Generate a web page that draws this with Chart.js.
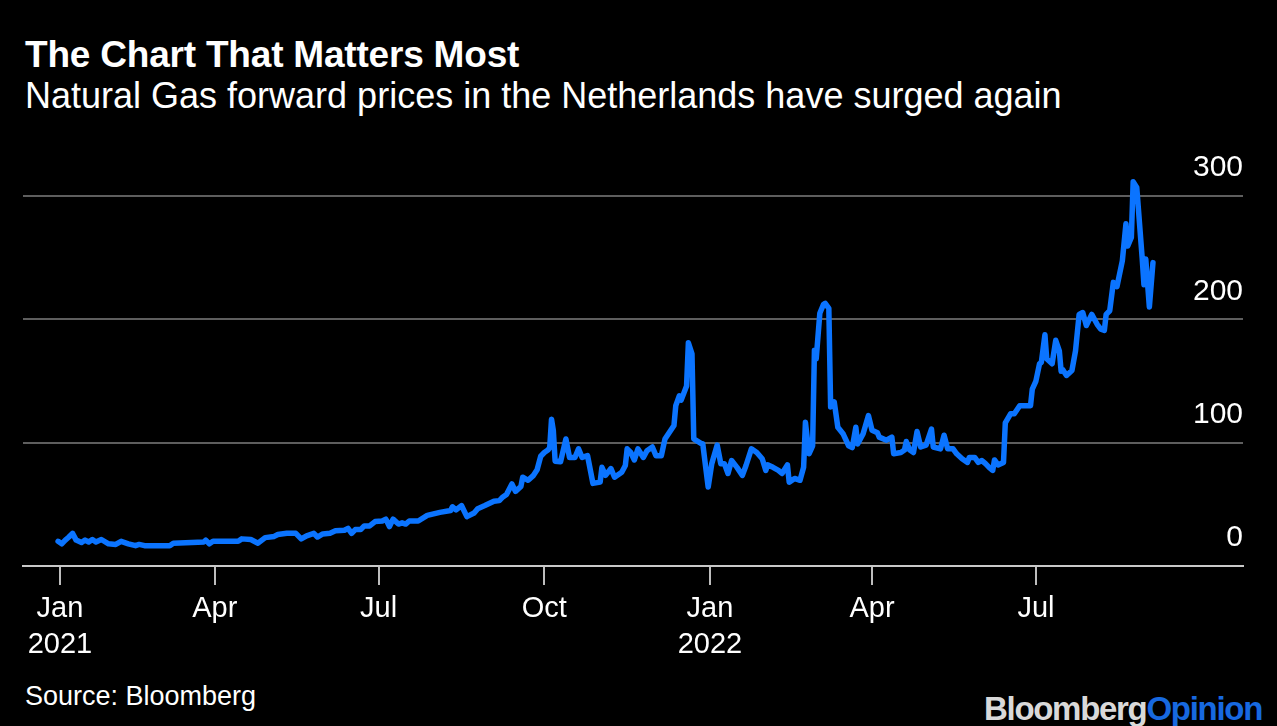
<!DOCTYPE html>
<html>
<head>
<meta charset="utf-8">
<title>The Chart That Matters Most</title>
<script src="https://cdn.jsdelivr.net/npm/chart.js@4.4.1/dist/chart.umd.min.js"></script>
<style>
body{margin:0;background:#000;width:1277px;height:726px;overflow:hidden;position:relative;font-family:"Liberation Sans",Arial,sans-serif;color:#fff}
.txt{position:absolute;line-height:1;white-space:nowrap}
#title{left:25px;top:36px;font-size:37px;font-weight:bold;letter-spacing:-0.2px}
#sub{left:25px;top:78px;font-size:36px}
#src{left:25px;top:683px;font-size:27px}
#logo{right:15px;top:692px;font-size:33px;font-weight:bold;letter-spacing:-1.3px;color:#d9d9d9}
#logo span{color:#1769e0}
canvas{position:absolute;left:0;top:0}
</style>
</head>
<body>
<div class="txt" id="title">The Chart That Matters Most</div>
<div class="txt" id="sub">Natural Gas forward prices in the Netherlands have surged again</div>
<div class="txt" id="src">Source: Bloomberg</div>
<div class="txt" id="logo">Bloomberg<span>Opinion</span></div>
<canvas id="myChart" width="1277" height="726"></canvas>

<script>
// days since 1 Jan 2021
var days = [3,5,7,9,11,13,16,18,20,22,24,27,31,35,38,42,46,48,51,65,67,84,85,87,89,103,105,110,114,118,
  123,125,130,135,138,141,145,147,150,154,157,162,164,166,168,171,173,176,179,183,185,187,189,192,194,196,198,203,208,215,
  221,222,224,227,230,234,236,240,245,248,250,252,255,257,260,261,264,267,269,271,273,275,276,277,278,279,282,285,287,290,
  292,294,297,300,304,305,307,310,312,316,318,319,321,323,325,328,330,333,335,338,340,345,346,348,349,352,353,355,356,360,
  361,364,366,369,371,373,375,377,380,383,385,388,391,394,396,397,400,403,405,408,409,412,415,417,418,420,422,423,424,426,
  428,429,431,432,434,436,439,442,444,446,447,450,453,455,458,459,463,466,467,471,473,474,476,478,480,482,485,488,489,493,
  495,497,500,502,505,508,509,512,514,516,518,520,522,523,525,528,529,532,534,537,543,544,546,548,549,551,552,555,557,559,
  560,561,563,566,568,570,572,574,577,580,582,584,585,587,589,591,594,596,597,599,600,602,605,606,607,609,611];
// euros per MWh
var prices = [20,18,21,23.5,26.5,21,19,21,19.5,21.5,19.5,21.5,18,17.5,20,18,16.5,17.5,16.5,16.5,18.5,19.5,21,18,20,20,22,21.5,18.5,23,
  24,25.5,26.5,26.5,22,24.5,26.5,23.5,26,26.5,28.5,29,30.5,26.5,29.5,29.5,32.5,32.5,36,36.5,38,32,38,34,35,34,36.5,36.5,41,43.5,
  45,48,45.5,49,40,43,46.5,49,52.5,53,56,58,66.5,60.5,64.5,72,69.5,73.5,78,89,92,94,96,119,110,85,84.5,103,88,88,
  95,88,89.5,67,68,80,73.5,79,72,76,81.5,95,92,86,95,88,93.5,96.5,89.5,89.5,103,114,130,138,134.5,146,181,172,103,99.5,
  99,64,83,98,83,83,75,85.5,80,73.5,81.5,95,92,87,77.5,82,80,77.5,75,82,68,71,69.5,80,116.5,91,97.5,175,168,205,
  212,213,209,129,133,112.5,107,97.5,96,112.5,99,107,122,110,108,104.5,102,104.5,91,92,94,101,94,92,109,96.5,98,111,96.5,95,
  106,95,95,91,87,84,88,88,84,85.5,83,80,77.5,86,82,84,116,123.5,123.5,130,130,143.5,150,164,165,187.5,168,164,183,174.5,
  158,159,154.5,158.5,174.5,204,205.5,195,204,196,192,191,204,207,230,226.5,247.5,277.5,259.5,266.5,311.5,307,250,228,249,210,246];

var tickDays = [4,90,181,273,365,455,546];
var tickLabels = [['Jan','2021'],['Apr'],['Jul'],['Oct'],['Jan','2022'],['Apr'],['Jul']];
var yTicks = [0,100,200,300];

var pts = [];
for(var i=0;i<days.length;i++) pts.push({x:days[i],y:prices[i]});

var ctx = document.getElementById('myChart');
var myChart = new Chart(ctx,
{
	type:'line',
	data:{datasets:[{data:pts,borderColor:'#0b74ff',borderWidth:5.5,pointRadius:0,tension:0,
		borderJoinStyle:'round',borderCapStyle:'round',clip:false}]},
	options:
	{
		responsive:false,
		animation:false,
		layout:{padding:{left:23,right:34,top:146.7,bottom:60}},
		plugins:{legend:{display:false},tooltip:{enabled:false}},
		scales:
		{
			x:{type:'linear',min:-16.5,max:661,
				afterBuildTicks:function(s){s.ticks=tickDays.map(function(v){return {value:v};});},
				afterFit:function(s){s.height=100;},
				grid:{drawOnChartArea:false,drawTicks:true,tickLength:19,color:'#bdbdbd',lineWidth:2},
				border:{display:true,color:'#c8c8c8',width:2},
				ticks:{padding:6,color:'#fff',maxRotation:0,autoSkip:false,
					font:{family:'"Liberation Sans", Arial, sans-serif',size:29,lineHeight:1.24},
					callback:function(v,i){return tickLabels[i];}}},
			y:{position:'right',min:0,max:340,
				afterBuildTicks:function(s){s.ticks=yTicks.map(function(v){return {value:v};});},
				afterFit:function(s){s.width=0;},
				grid:{color:'#5e5e5e',lineWidth:2,drawTicks:false},
				border:{display:false},
				ticks:{mirror:true,padding:0,labelOffset:-28,color:'#fff',
					font:{family:'"Liberation Sans", Arial, sans-serif',size:30}}}
		}
	}
});
</script>
</body>
</html>
